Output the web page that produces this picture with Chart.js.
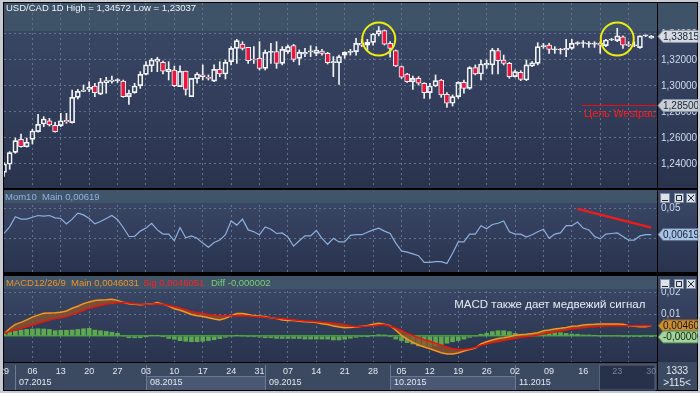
<!DOCTYPE html>
<html>
<head>
<meta charset="utf-8">
<script src="https://cdn.jsdelivr.net/npm/chart.js@4.4.1/dist/chart.umd.min.js"></script>
<style>
  body { margin: 0; width: 700px; height: 393px; background: #c6cad2; position: relative; overflow: hidden; }
  canvas { position: absolute; left: 3px; }
</style>
</head>
<body>
<canvas id="grafPreco" width="695" height="187" style="top:2px"></canvas>
<canvas id="grafMom" width="695" height="86" style="top:188px"></canvas>
<canvas id="grafMacd" width="695" height="117" style="top:274px"></canvas>
<script>
// ---- USD/CAD diario, 29.06.2015 - 30.11.2015 ----
const opens = [1.2335,1.2398,1.2490,1.2590,1.2533,1.2590,1.2649,1.2708,1.2733,1.2697,
  1.2695,1.2736,1.2718,1.2913,1.2959,1.2974,1.3000,1.2938,1.3026,1.3036,
  1.3041,1.3038,1.2918,1.2949,1.3003,1.3090,1.3156,1.3190,1.3182,1.3110,
  1.3123,1.2995,1.3115,1.2918,1.3056,1.3085,1.3067,1.3038,1.3128,1.3092,
  1.3187,1.3290,1.3323,1.3297,1.3208,1.3213,1.3136,1.3259,1.3264,1.3174,
  1.3264,1.3310,1.3213,1.3246,1.3262,1.3251,1.3269,1.3251,1.3179,1.3179,
  1.3238,1.3259,1.3264,1.3328,1.3315,1.3336,1.3400,1.3426,1.3328,1.3272,
  1.3149,1.3092,1.3033,1.3059,1.3021,1.2949,1.3000,1.3046,1.2936,1.2867,
  1.2918,1.3028,1.2982,1.3141,1.3092,1.3162,1.3162,1.3272,1.3200,1.3174,
  1.3072,1.3105,1.3046,1.3154,1.3174,1.3303,1.3315,1.3279,1.3277,1.3277,
  1.3290,1.3326,1.3327,1.3322,1.3322,1.3328,1.3310,1.3354,1.3349,1.3379,
  1.3314,1.3309,1.3295,1.3385,1.3370]
const highs = [1.2410,1.2495,1.2600,1.2631,1.2600,1.2667,1.2782,1.2764,1.2751,1.2720,
  1.2790,1.2790,1.2969,1.2974,1.3008,1.3033,1.3020,1.3059,1.3067,1.3077,
  1.3056,1.3046,1.2969,1.3021,1.3110,1.3187,1.3213,1.3221,1.3192,1.3187,
  1.3154,1.3156,1.3115,1.3059,1.3103,1.3162,1.3085,1.3162,1.3187,1.3200,
  1.3303,1.3359,1.3341,1.3297,1.3303,1.3341,1.3277,1.3328,1.3341,1.3303,
  1.3315,1.3321,1.3277,1.3290,1.3310,1.3303,1.3282,1.3259,1.3226,1.3238,
  1.3264,1.3282,1.3367,1.3359,1.3359,1.3405,1.34572,1.3431,1.3341,1.3277,
  1.3154,1.3097,1.3077,1.3072,1.3026,1.3021,1.3085,1.3051,1.2949,1.2931,
  1.3033,1.3046,1.3149,1.3162,1.3200,1.3200,1.3290,1.3290,1.3238,1.3182,
  1.3123,1.3118,1.3200,1.3187,1.3333,1.3328,1.3328,1.3303,1.3290,1.3359,
  1.3359,1.3341,1.3349,1.3341,1.3341,1.3341,1.3359,1.3367,1.3444,1.3385,
  1.3341,1.3341,1.3385,1.3392,1.3390]
const lows = [1.23037,1.2359,1.2482,1.2530,1.2530,1.2554,1.2644,1.2687,1.2692,1.2645,
  1.2687,1.2713,1.2715,1.2900,1.2956,1.2956,1.2918,1.2933,1.2944,1.3021,
  1.3026,1.2913,1.2859,1.2944,1.2982,1.3085,1.3110,1.3110,1.3092,1.3046,
  1.2995,1.2995,1.2931,1.2918,1.3021,1.3046,1.3046,1.3033,1.3072,1.3054,
  1.3162,1.3174,1.3277,1.3174,1.3174,1.3123,1.3123,1.3174,1.3136,1.3162,
  1.3251,1.3187,1.3162,1.3226,1.3226,1.3233,1.3238,1.3169,1.3072,1.3013,
  1.3213,1.3238,1.3238,1.3303,1.3277,1.3315,1.3385,1.3315,1.3221,1.3149,
  1.3059,1.3028,1.2974,1.3008,1.2905,1.2905,1.2995,1.2913,1.2836,1.2846,
  1.2905,1.2944,1.2974,1.3085,1.3046,1.3136,1.3092,1.3092,1.3162,1.3059,
  1.3067,1.3041,1.3041,1.3149,1.3162,1.3290,1.3251,1.3251,1.3246,1.3226,
  1.3282,1.3315,1.3297,1.3297,1.3297,1.3251,1.3303,1.3349,1.3341,1.3290,
  1.3303,1.3303,1.3290,1.3379,1.3365]
const closes = [1.2400,1.2487,1.2580,1.2533,1.2567,1.2654,1.2705,1.2746,1.2700,1.2649,
  1.2733,1.2723,1.2913,1.2959,1.2969,1.2990,1.2949,1.3031,1.3041,1.3046,
  1.3044,1.2918,1.2944,1.3000,1.3090,1.3162,1.3200,1.3205,1.3115,1.3128,
  1.3003,1.3115,1.2974,1.3059,1.3092,1.3072,1.3059,1.3128,1.3092,1.3182,
  1.3290,1.3349,1.3290,1.3195,1.3200,1.3136,1.3259,1.3264,1.3174,1.3282,
  1.3303,1.3205,1.3259,1.3259,1.3267,1.3277,1.3251,1.3179,1.3187,1.3226,
  1.3259,1.3267,1.3328,1.3315,1.3336,1.3400,1.3426,1.3321,1.3290,1.3154,
  1.3067,1.3033,1.3059,1.3021,1.2949,1.3000,1.3041,1.2931,1.2867,1.2918,
  1.3028,1.2982,1.3141,1.3092,1.3169,1.3174,1.3277,1.3195,1.3174,1.3072,
  1.3110,1.3051,1.3162,1.3179,1.3303,1.3310,1.3282,1.3282,1.3280,1.3290,
  1.3328,1.3329,1.3329,1.3324,1.3324,1.3315,1.3354,1.3359,1.3385,1.3315,
  1.3312,1.3311,1.3385,1.3387,1.33815]

// Momentum(10)
const momValues = [0.0083,0.019,0.036,0.032,0.032,0.035,0.038,0.037,0.038,0.034,
  0.033,0.024,0.032,0.042,0.039,0.033,0.024,0.028,0.033,0.038,
  0.031,0.018,0.003,0.003,0.012,0.017,0.025,0.014,0.007,0.007,
  -0.004,0.018,0.001,0.004,0.000,-0.008,-0.015,-0.007,-0.003,0.006,
  0.029,0.022,0.032,0.014,0.011,0.006,0.019,0.015,0.008,0.009,
  0.002,-0.013,-0.004,0.004,0.004,0.013,0.000,-0.010,0.000,-0.006,
  -0.006,0.005,0.006,0.006,0.010,0.014,0.017,0.012,0.008,-0.008,
  -0.021,-0.023,-0.026,-0.029,-0.040,-0.040,-0.039,-0.039,-0.042,-0.025,
  -0.006,-0.006,0.007,0.007,0.021,0.016,0.023,0.025,0.029,0.011,
  0.007,0.007,0.002,0.006,0.011,0.015,0.000,0.007,0.009,0.021,
  0.021,0.027,0.017,0.014,0.003,-0.001,0.007,0.008,0.009,0.003,
  -0.003,-0.003,0.004,0.006,0.00619]

// MACD 12/26/9
const macdMain = [0.0009,0.0034,0.0053,0.0062,0.0073,0.0086,0.0095,0.0103,0.0105,0.0106,
  0.0108,0.0114,0.0126,0.0135,0.0147,0.0155,0.0161,0.0164,0.0165,0.0167,
  0.0162,0.0153,0.0147,0.0144,0.0142,0.0144,0.0145,0.0152,0.0145,0.0136,
  0.0124,0.0117,0.0108,0.0098,0.0092,0.0089,0.0083,0.0077,0.0073,0.0080,
  0.0092,0.0102,0.0102,0.0098,0.0092,0.0091,0.0088,0.0083,0.0079,0.0073,
  0.0071,0.0070,0.0067,0.0065,0.0064,0.0061,0.0056,0.0052,0.0045,0.0041,
  0.0038,0.0039,0.0041,0.0044,0.0048,0.0053,0.0058,0.0053,0.0047,0.0026,
  0.0003,-0.0014,-0.0029,-0.0041,-0.0050,-0.0058,-0.0067,-0.0076,-0.0082,-0.0082,
  -0.0077,-0.0068,-0.0061,-0.0055,-0.0036,-0.0026,-0.0018,-0.0011,-0.0008,-0.0003,
  0.0003,0.0006,0.0008,0.0011,0.0015,0.0024,0.0027,0.0032,0.0035,0.0039,
  0.0044,0.0045,0.0050,0.0052,0.0053,0.0055,0.0055,0.0055,0.0055,0.0053,
  0.0047,0.0044,0.0042,0.0042,0.0046031]
const macdSignal = [0.0012,0.0020,0.0027,0.0035,0.0042,0.0050,0.0058,0.0065,0.0073,0.0079,
  0.0083,0.0088,0.0097,0.0106,0.0117,0.0126,0.0133,0.0139,0.0145,0.0148,
  0.0152,0.0152,0.0150,0.0147,0.0145,0.0144,0.0145,0.0147,0.0144,0.0139,
  0.0133,0.0127,0.0120,0.0112,0.0106,0.0102,0.0098,0.0094,0.0092,0.0092,
  0.0092,0.0092,0.0092,0.0092,0.0089,0.0088,0.0085,0.0083,0.0080,0.0079,
  0.0076,0.0073,0.0070,0.0068,0.0067,0.0065,0.0062,0.0061,0.0058,0.0055,
  0.0052,0.0045,0.0042,0.0044,0.0045,0.0047,0.0050,0.0052,0.0044,0.0035,
  0.0026,0.0012,0.0003,-0.0008,-0.0017,-0.0024,-0.0033,-0.0041,-0.0050,-0.0058,
  -0.0061,-0.0061,-0.0058,-0.0052,-0.0042,-0.0036,-0.0030,-0.0026,-0.0020,-0.0015,
  -0.0011,-0.0006,-0.0003,0.0000,0.0005,0.0009,0.0014,0.0018,0.0023,0.0027,
  0.0032,0.0035,0.0038,0.0041,0.0042,0.0044,0.0045,0.0047,0.0047,0.0047,
  0.0047,0.0047,0.0047,0.0047,0.0046051]
const macdDiff = [0.0008,0.0020,0.0023,0.0027,0.0030,0.0032,0.0033,0.0032,0.0030,0.0024,
  0.0026,0.0026,0.0027,0.0030,0.0033,0.0035,0.0027,0.0024,0.0021,0.0017,
  0.0012,0.0000,-0.0008,-0.0008,-0.0008,-0.0002,0.0002,0.0002,-0.0002,-0.0011,
  -0.0015,-0.0021,-0.0024,-0.0026,-0.0026,-0.0024,-0.0021,-0.0017,-0.0012,-0.0006,
  0.0000,0.0002,0.0000,-0.0003,-0.0003,-0.0005,-0.0008,-0.0008,-0.0011,-0.0011,
  -0.0011,-0.0011,-0.0011,-0.0014,-0.0014,-0.0014,-0.0014,-0.0014,-0.0018,-0.0018,
  -0.0015,-0.0010,-0.0006,-0.0003,-0.0002,0.0002,0.0006,0.0005,-0.0003,-0.0014,
  -0.0021,-0.0030,-0.0036,-0.0045,-0.0048,-0.0048,-0.0045,-0.0041,-0.0033,-0.0026,
  -0.0021,-0.0014,-0.0006,0.0000,0.0008,0.0012,0.0020,0.0024,0.0024,0.0020,
  0.0012,0.0008,0.0005,0.0008,0.0012,0.0015,0.0015,0.0015,0.0015,0.0012,
  0.0009,0.0008,0.0005,0.0005,0.0002,0.0000,0.0000,0.0000,0.0000,-0.0003,
  -0.0003,-0.0003,-0.0002,0.0000,-0.000002]

// linhas desenhadas a mao no grafico
const alvoWestpac = 1.285
const alvoDesde = 101.8
const momTrendBars = [101, 114]
const momTrendVals = [0.049, 0.0178]
const circleBars = [66, 108]
const circlePrices = [1.33615, 1.33615]

// eixos
const priceTicks = [1.24, 1.26, 1.28, 1.30, 1.32, 1.34]
const momTicks = [0, 0.05]
const momTickLabels = ['', '0,05']
const macdTicks = [0, 0.01, 0.02]
const macdTickLabels = ['', '0,01', '0,02']
const dayTickBars = [0,5,10,15,20,25,30,35,40,45,50,55,60,65,70,75,80,85,90,96,102,108,114]
const dayTickLabels = ['29','06','13','20','27','03','10','17','24','31','07','14','21','28','05','12','19','26','02','09','16','23','30']
const monthStartBars = [2, 25, 46, 68, 90]
const monthLabels = ['07.2015', '08.2015', '09.2015', '10.2015', '11.2015']

/*
* configuracao comum
*/
const nBars = closes.length
const gridBars = []
for (let b = 5; b < nBars; b += 5) gridBars.push(b)

const gridCol = '#63738e'
const gridDash = [2, 3]
const fontUI = "'Liberation Sans', Arial, sans-serif"
const fontAxis = "'Liberation Sans Narrow', 'Liberation Sans', Arial, sans-serif"
const fmt = (v, d) => v.toFixed(d).replace('.', ',')
const pts = arr => arr.map((v, i) => ({ x: i, y: v }))

const zeraPadding = s => { s.paddingLeft = 0; s.paddingRight = 0; s.paddingTop = 0; s.paddingBottom = 0 }

const xGrid = () => ({
  type: 'linear', min: 0, max: nBars, offset: false,
  afterBuildTicks: s => { s.ticks = gridBars.map(v => ({ value: v })) },
  afterFit: s => { s.height = 0; zeraPadding(s) },
  grid: { color: gridCol, drawTicks: false, offset: false },
  border: { display: false, dash: gridDash },
  ticks: { display: false }
})

const yRight = (min, max, vals, lbls, zeroGreen) => ({
  position: 'right', min: min, max: max,
  afterBuildTicks: s => { s.ticks = vals.map(v => ({ value: v })) },
  afterFit: s => { s.width = 40; zeraPadding(s) },
  grid: {
    drawTicks: false,
    color: c => (zeroGreen && c.tick && c.tick.value === 0) ? '#3f9f3a' : gridCol,
    lineWidth: c => (zeroGreen && c.tick && c.tick.value === 0) ? 1.5 : 1
  },
  border: { display: true, color: '#000', width: 1,
    dash: c => (zeroGreen && c.tick && c.tick.value === 0) ? [] : gridDash },
  ticks: { color: '#cfdbec', padding: 4, font: { family: fontAxis, size: 10 },
    callback: (v, i) => lbls[i] }
})

const baseOpts = (pad) => ({
  responsive: false, animation: false, devicePixelRatio: 1, events: [],
  layout: { padding: pad },
  plugins: { legend: { display: false }, tooltip: { enabled: false } }
})

function fundo(chart) {
  const { ctx, width, height, chartArea: a } = chart
  ctx.fillStyle = '#000'
  ctx.fillRect(0, 0, width, height)
  const g = ctx.createLinearGradient(0, a.top, 0, a.bottom)
  g.addColorStop(0, '#3b4968')
  g.addColorStop(1, '#29334e')
  ctx.fillStyle = g
  ctx.fillRect(1, a.top, width - 2, a.bottom - a.top)
}

function etiqueta(ctx, x0, y, txt, bg, bd, fg) {
  ctx.save()
  ctx.beginPath()
  ctx.moveTo(x0 + 1, y)
  ctx.lineTo(x0 + 6, y - 6)
  ctx.lineTo(x0 + 41, y - 6)
  ctx.lineTo(x0 + 41, y + 6)
  ctx.lineTo(x0 + 6, y + 6)
  ctx.closePath()
  ctx.fillStyle = bg
  ctx.fill()
  ctx.strokeStyle = bd
  ctx.lineWidth = 1
  ctx.stroke()
  ctx.fillStyle = fg
  ctx.font = '10px ' + fontAxis
  ctx.textBaseline = 'middle'
  ctx.textAlign = 'left'
  ctx.fillText(txt, x0 + 6, y + 0.5)
  ctx.restore()
}

function botoes(ctx, x0, y0) {
  ctx.save()
  for (let k = 0; k < 3; k++) {
    const bx = x0 + [0, 14, 26][k]
    ctx.fillStyle = '#dde2e8'
    ctx.fillRect(bx, y0, 10, 10)
    ctx.strokeStyle = '#7d8a9c'
    ctx.lineWidth = 1
    ctx.strokeRect(bx + 0.5, y0 + 0.5, 9, 9)
    ctx.strokeStyle = '#1c2838'
    ctx.beginPath()
    if (k === 0) { ctx.moveTo(bx + 2, y0 + 7.5); ctx.lineTo(bx + 8, y0 + 7.5) }
    if (k === 1) { ctx.rect(bx + 2.5, y0 + 2.5, 5, 5) }
    if (k === 2) { ctx.moveTo(bx + 2, y0 + 2); ctx.lineTo(bx + 8, y0 + 8); ctx.moveTo(bx + 8, y0 + 2); ctx.lineTo(bx + 2, y0 + 8) }
    ctx.stroke()
  }
  ctx.restore()
}

function cabecalho(chart) {
  const { ctx, chartArea: a } = chart
  ctx.fillStyle = '#405569'
  ctx.fillRect(a.left, a.top, a.right - a.left, 13)
}

/*
* grafico de precos (candles)
*/
const upCol = '#f2f4f8'
const downCol = '#e6163c'
const bodyColors = closes.map((c, i) => c >= opens[i] ? 'rgba(0,0,0,0)' : downCol)

const precoDeco = {
  id: 'precoDeco',
  beforeDraw(chart) {
    const { ctx, width, chartArea: a } = chart
    ctx.save()
    fundo(chart)
    ctx.fillStyle = '#3f5368'
    ctx.fillRect(1, a.top, width - 2, 28)
    ctx.restore()
  },
  afterDraw(chart) {
    const { ctx, chartArea: a, scales: { x, y } } = chart
    ctx.save()
    ctx.strokeStyle = '#eded12'
    ctx.lineWidth = 2
    circleBars.forEach((b, k) => {
      ctx.beginPath()
      ctx.arc(x.getPixelForValue(b), y.getPixelForValue(circlePrices[k]), 16.5, 0, Math.PI * 2)
      ctx.stroke()
    })
    ctx.fillStyle = '#ff1c1c'
    ctx.font = '11px ' + fontUI
    ctx.textBaseline = 'middle'
    ctx.fillText('Цель Westpac', x.getPixelForValue(alvoDesde) + 2, y.getPixelForValue(alvoWestpac) + 8)
    ctx.fillStyle = '#eef2f7'
    ctx.font = '9.5px ' + fontUI
    ctx.fillText('USD/CAD 1D High = 1,34572 Low = 1,23037', 3, 6)
    etiqueta(ctx, a.right, y.getPixelForValue(alvoWestpac), fmt(alvoWestpac, 5), '#caced4', '#8c96a4', '#15233a')
    etiqueta(ctx, a.right, y.getPixelForValue(closes[nBars - 1]), fmt(closes[nBars - 1], 5), '#d8dce2', '#8c96a4', '#15233a')
    ctx.restore()
  }
}

new Chart(document.getElementById('grafPreco'), {
  type: 'bar',
  data: {
    datasets: [
      { type: 'bar', data: closes.map((c, i) => ({ x: i, y: [lows[i], Math.min(opens[i], c)] })),
        backgroundColor: upCol, barThickness: 1, grouped: false, order: 3 },
      { type: 'bar', data: closes.map((c, i) => ({ x: i, y: [Math.max(opens[i], c), highs[i]] })),
        backgroundColor: upCol, barThickness: 1, grouped: false, order: 3 },
      { type: 'bar', data: closes.map((c, i) => ({ x: i, y: [opens[i], c] })),
        backgroundColor: bodyColors, borderColor: upCol, borderWidth: 1, borderSkipped: false,
        barThickness: 5, minBarLength: 1, grouped: false, order: 2 },
      { type: 'line', data: [{ x: alvoDesde, y: alvoWestpac }, { x: nBars, y: alvoWestpac }],
        borderColor: '#f01010', borderWidth: 1, pointRadius: 0, order: 1 }
    ]
  },
  options: Object.assign(baseOpts({ left: 1, right: 1, top: 1, bottom: 1 }), {
    scales: {
      x: xGrid(),
      y: yRight(1.221538, 1.363846, priceTicks, priceTicks.map(v => fmt(v, 5)), false)
    }
  }),
  plugins: [precoDeco]
})

/*
* Momentum
*/
const momDeco = {
  id: 'momDeco',
  beforeDraw(chart) { chart.ctx.save(); fundo(chart); chart.ctx.restore() },
  beforeDatasetsDraw(chart) { chart.ctx.save(); cabecalho(chart); chart.ctx.restore() },
  afterDraw(chart) {
    const { ctx, chartArea: a, scales: { y } } = chart
    ctx.save()
    ctx.font = '9.5px ' + fontUI
    ctx.textBaseline = 'middle'
    ctx.fillStyle = '#8fb2e2'
    ctx.fillText('Mom10', 2, a.top + 7)
    ctx.fillText('Main 0,00619', 39, a.top + 7)
    etiqueta(ctx, a.right, y.getPixelForValue(momValues[nBars - 1]), fmt(momValues[nBars - 1], 5), '#a9c3e2', '#5a7090', '#10203a')
    botoes(ctx, a.right + 3, a.top + 3)
    ctx.restore()
  }
}

new Chart(document.getElementById('grafMom'), {
  type: 'line',
  data: {
    datasets: [
      { data: pts(momValues), borderColor: '#8db0dc', borderWidth: 1.2, pointRadius: 0, tension: 0, order: 1 },
      { data: momTrendBars.map((b, k) => ({ x: b, y: momTrendVals[k] })),
        borderColor: '#ee1c1c', borderWidth: 2.5, pointRadius: 0, order: 0 }
    ]
  },
  options: Object.assign(baseOpts({ left: 1, right: 1, top: 2, bottom: 2 }), {
    scales: {
      x: xGrid(),
      y: yRight(-0.05617, 0.0805, momTicks, momTickLabels, false)
    }
  }),
  plugins: [momDeco]
})

/*
* MACD + eixo de datas
*/
const fillCol = 'rgba(140, 82, 46, 0.8)'

const macdDeco = {
  id: 'macdDeco',
  beforeDraw(chart) {
    const { ctx, width, height, chartArea: a, scales: { x } } = chart
    ctx.save()
    fundo(chart)
    const top = a.bottom
    const bot = height - 1
    ctx.fillStyle = '#3c4a61'
    ctx.fillRect(1, top, width - 2, bot - top)
    monthStartBars.forEach((b, k) => {
      const x0 = Math.round(x.getPixelForValue(b)) + 0.5
      const x1 = k + 1 < monthStartBars.length ? Math.round(x.getPixelForValue(monthStartBars[k + 1])) + 0.5 : a.right
      if (k % 2 === 1) {
        ctx.fillStyle = '#4a5873'
        ctx.fillRect(x0, top + 14, x1 - x0, bot - top - 14)
        ctx.strokeStyle = '#66768f'
        ctx.beginPath(); ctx.moveTo(x0, top + 14.5); ctx.lineTo(x1, top + 14.5); ctx.stroke()
      }
      ctx.strokeStyle = '#6b7b95'
      ctx.beginPath(); ctx.moveTo(x0, top + 3); ctx.lineTo(x0, bot); ctx.stroke()
    })
    // faixa escura (area visivel)
    const s0 = Math.round(x.getPixelForValue(104.8)) + 0.5
    ctx.fillStyle = '#27314a'
    ctx.fillRect(s0, top + 3, a.right - 2 - s0, bot - top - 3)
    ctx.strokeStyle = '#56657f'
    ctx.strokeRect(s0, top + 3, a.right - 2 - s0, bot - top - 3)
    ctx.restore()
  },
  beforeDatasetsDraw(chart) { chart.ctx.save(); cabecalho(chart); chart.ctx.restore() },
  afterDraw(chart) {
    const { ctx, height, chartArea: a, scales: { x, y } } = chart
    ctx.save()
    ctx.textBaseline = 'middle'
    ctx.font = '9px ' + fontUI
    ctx.fillStyle = '#e2e8f0'
    monthStartBars.forEach((b, k) => {
      ctx.fillText(monthLabels[k], Math.round(x.getPixelForValue(b)) + 4, a.bottom + 21)
    })
    ctx.textAlign = 'center'
    ctx.font = '10px ' + fontAxis
    ctx.fillText('1333', a.right + 20, a.bottom + 9)
    ctx.fillText('>115<', a.right + 20, a.bottom + 21)
    ctx.strokeStyle = '#000'
    ctx.beginPath(); ctx.moveTo(a.right + 0.5, a.bottom); ctx.lineTo(a.right + 0.5, height - 1); ctx.stroke()
    ctx.textAlign = 'left'
    ctx.font = '9.5px ' + fontUI
    ctx.fillStyle = '#f0902a'
    ctx.fillText('MACD12/26/9', 3, a.top + 7)
    ctx.fillText('Main 0,0046031', 68, a.top + 7)
    ctx.fillStyle = '#ff2222'
    ctx.fillText('Sig 0,0046051', 140, a.top + 7)
    ctx.fillStyle = '#7ccf74'
    ctx.fillText('Diff -0,000002', 208, a.top + 7)
    ctx.fillStyle = '#e6ecf4'
    ctx.font = '11.5px ' + fontUI
    ctx.fillText('MACD также дает медвежий сигнал', x.getPixelForValue(79.3), y.getPixelForValue(0.0141))
    etiqueta(ctx, a.right, y.getPixelForValue(macdMain[nBars - 1]), fmt(macdMain[nBars - 1], 6), '#c98f36', '#7a5520', '#1a1408')
    etiqueta(ctx, a.right, y.getPixelForValue(0) + 1, fmt(macdDiff[nBars - 1], 6), '#a2d49c', '#4e7a48', '#0e200c')
    botoes(ctx, a.right + 3, a.top + 3)
    ctx.restore()
  }
}

const macdXTicks = Array.from(new Set(gridBars.concat(dayTickBars))).sort((p, q) => p - q)

new Chart(document.getElementById('grafMacd'), {
  type: 'bar',
  data: {
    datasets: [
      { type: 'bar', data: pts(macdDiff), backgroundColor: '#5ea851', barThickness: 4, grouped: false, order: 3 },
      { type: 'line', data: pts(macdMain), borderColor: '#f5961e', borderWidth: 1.5, pointRadius: 0,
        fill: { target: 2, above: fillCol, below: fillCol }, order: 2 },
      { type: 'line', data: pts(macdSignal), borderColor: '#e8160c', borderWidth: 1.5, pointRadius: 0, order: 1 }
    ]
  },
  options: Object.assign(baseOpts({ left: 1, right: 1, top: 2, bottom: 1 }), {
    scales: {
      x: {
        type: 'linear', min: 0, max: nBars, offset: false,
        afterBuildTicks: s => { s.ticks = macdXTicks.map(v => ({ value: v })) },
        afterFit: s => { s.height = 28; zeraPadding(s) },
        grid: { drawTicks: false, offset: false,
          color: c => (c.tick && gridBars.includes(c.tick.value)) ? gridCol : 'rgba(0,0,0,0)' },
        border: { display: true, color: '#000', dash: gridDash },
        ticks: {
          autoSkip: false, maxRotation: 0, padding: 4,
          font: { family: fontUI, size: 9 },
          color: c => (c.tick && c.tick.value >= 105) ? '#76839a' : '#e2e8f1',
          callback: v => { const k = dayTickBars.indexOf(v); return k >= 0 ? dayTickLabels[k] : '' }
        }
      },
      y: yRight(-0.011818, 0.027273, macdTicks, macdTickLabels, true)
    }
  }),
  plugins: [macdDeco]
})
</script>
</body>
</html>
